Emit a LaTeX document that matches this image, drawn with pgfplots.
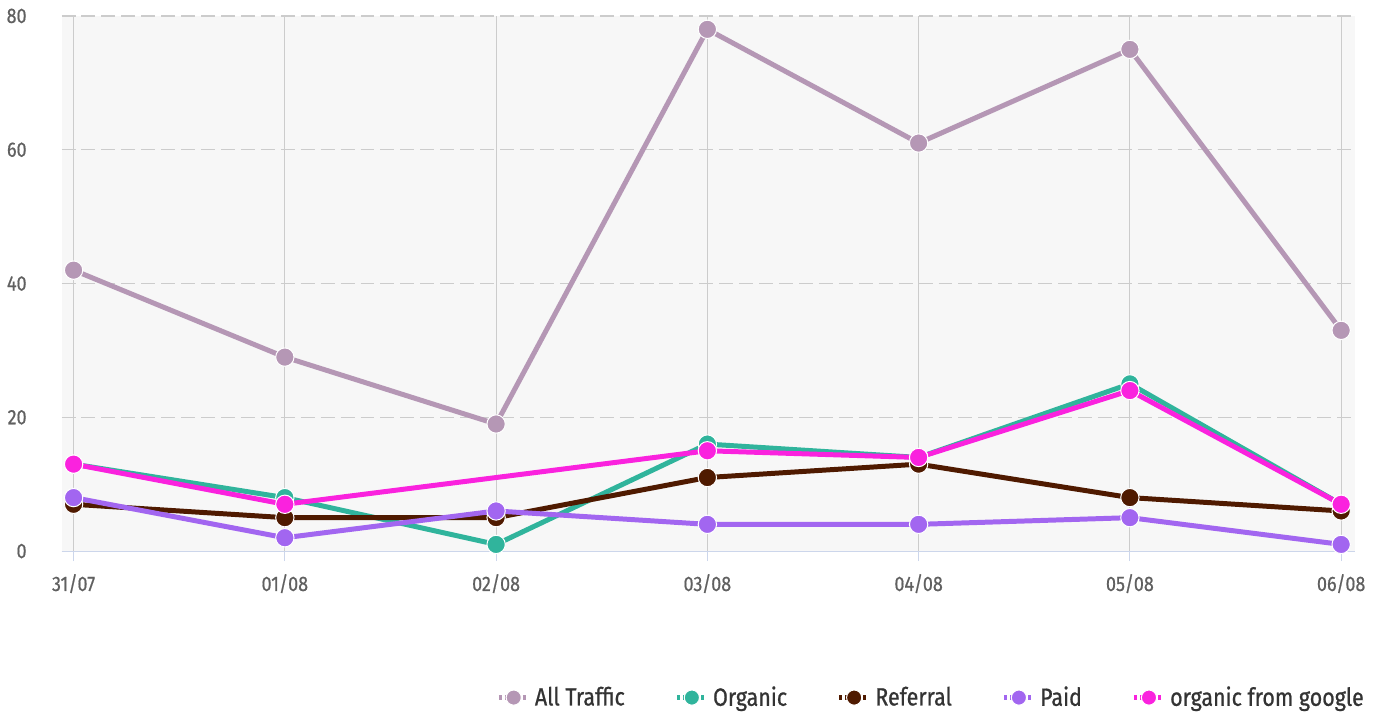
\documentclass[border=0pt]{standalone}
\usepackage{pgfplots}
\pgfplotsset{compat=1.18}
\usepackage{fontspec}
\setmainfont[FakeStretch=0.86]{Fira Sans}
\newfontfamily\tickfont[FakeStretch=0.86, FakeBold=0.6]{Fira Sans}
\newfontfamily\legfont[FakeStretch=0.86, FakeBold=0.8]{Fira Sans}
\definecolor{cAll}{HTML}{B597B5}
\definecolor{cOrg}{HTML}{30B49C}
\definecolor{cRef}{HTML}{4F1A00}
\definecolor{cPaid}{HTML}{A266F0}
\definecolor{cGoo}{HTML}{FA22DE}
\definecolor{cGrid}{HTML}{CCCCCC}
\definecolor{cAxis}{HTML}{CCD6EB}
\definecolor{cTick}{HTML}{606060}
\begin{document}
\begin{tikzpicture}
\begin{axis}[
  at={(0,0)}, anchor=south west,
  scale only axis,
  width=649pt, height=268.5pt,
  xmin=-0.057, xmax=6.066,
  ymin=0, ymax=80,
  xtick={0,1,2,3,4,5,6},
  xticklabels={31/07,01/08,02/08,03/08,04/08,05/08,06/08},
  ytick={0,20,40,60,80},
  axis background/.style={fill=black!3},
  axis x line*=bottom,
  axis y line*=left,
  x axis line style={draw=cAxis, line width=0.6pt, -},
  y axis line style={draw=none},
  xtick style={draw=cAxis, line width=0.6pt},
  ytick style={draw=none},
  tick align=outside,
  major tick length=5pt,
  xmajorgrids, ymajorgrids,
  x grid style={cGrid, line width=0.6pt},
  y grid style={cGrid, line width=0.6pt, dash pattern=on 7pt off 3pt},
  tick label style={font=\tickfont\fontsize{10.5}{12}\selectfont, text=cTick},
  xticklabel style={yshift=-3pt},
  yticklabel style={xshift=-9pt},
  /pgf/number format/assume math mode=true,
  every axis plot/.append style={line width=2.5pt, mark=*, mark size=4.6pt},
  legend style={at={(1.0147,-0.2737)}, anchor=east, draw=none, fill=none,
    font=\legfont\fontsize{12.5}{14}\selectfont, text=black!80,
    /tikz/every even column/.append style={column sep=23pt}},
  legend columns=-1,
  legend image code/.code={
    \draw[#1, line width=2.5pt, dash pattern=on 1.5pt off 1.5pt] (0cm,0cm) -- (0.52cm,0cm);
    \draw[#1, mark size=3.8pt] plot coordinates {(0.26cm,0cm)};
  },
  clip=false,
]
\addplot[color=cAll, mark options={fill=cAll, draw=white, line width=0.5pt}] coordinates {
  (0,42) (1,29) (2,19) (3,78) (4,61) (5,75) (6,33)};
\addlegendentry{All Traffic}
\addplot[color=cOrg, mark options={fill=cOrg, draw=white, line width=0.5pt}] coordinates {
  (0,13) (1,8) (2,1) (3,16) (4,14) (5,25) (6,7)};
\addlegendentry{Organic}
\addplot[color=cRef, mark options={fill=cRef, draw=white, line width=0.5pt}] coordinates {
  (0,7) (1,5) (2,5) (3,11) (4,13) (5,8) (6,6)};
\addlegendentry{Referral}
\addplot[color=cPaid, mark options={fill=cPaid, draw=white, line width=0.5pt}] coordinates {
  (0,8) (1,2) (2,6) (3,4) (4,4) (5,5) (6,1)};
\addlegendentry{Paid}
\addplot[color=cGoo, mark options={fill=cGoo, draw=white, line width=0.5pt}] coordinates {
  (0,13) (1,7) (3,15) (4,14) (5,24) (6,7)};
\addlegendentry{organic from google}
\end{axis}
\useasboundingbox (-28.5pt,-81.5pt) rectangle (663.5pt,276.5pt);
\end{tikzpicture}
\end{document}
